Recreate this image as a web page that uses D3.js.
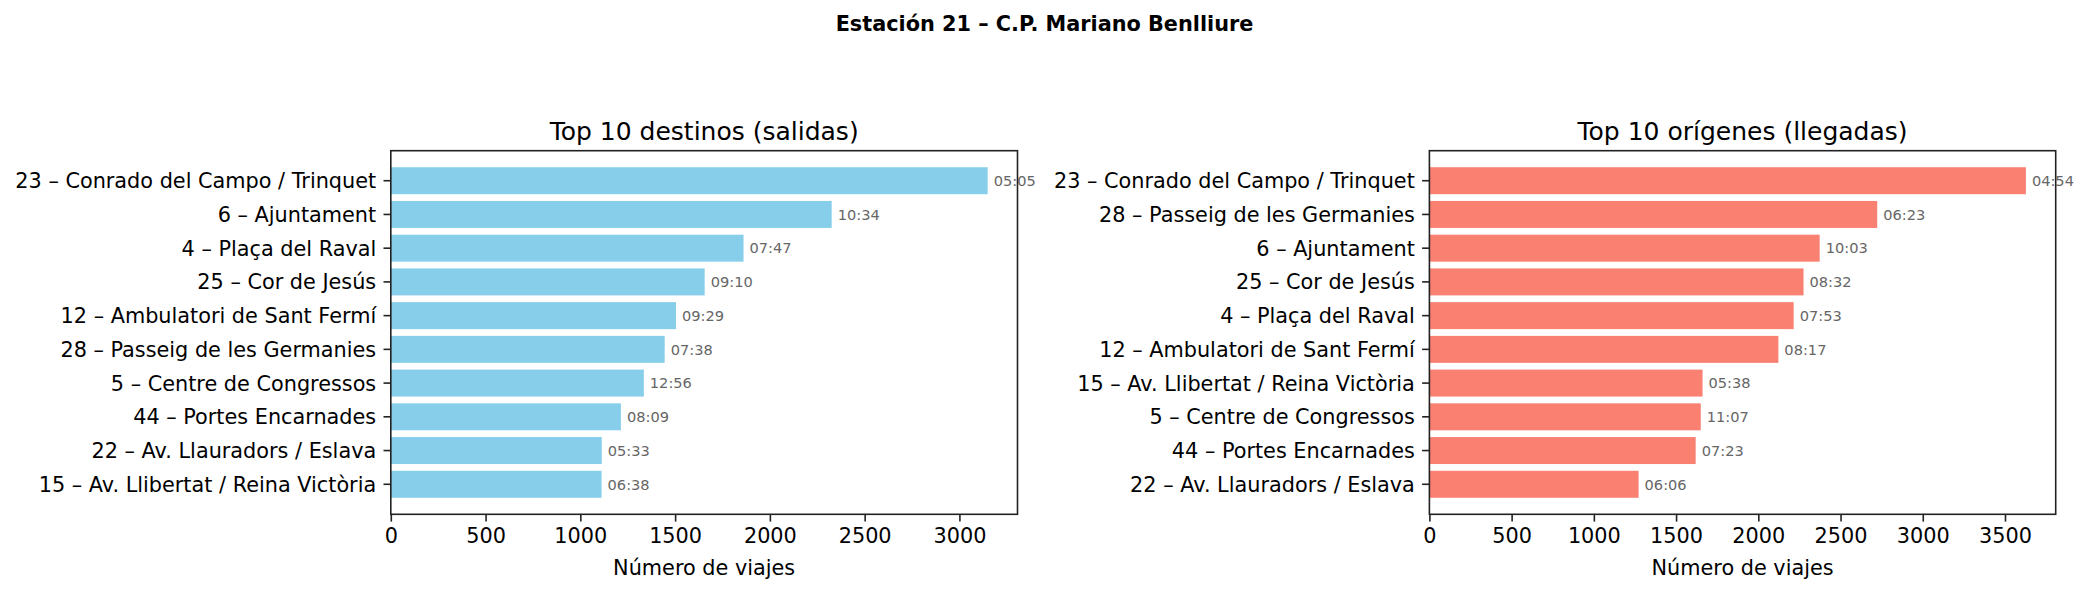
<!DOCTYPE html>
<html><head><meta charset="utf-8">
<script src="https://cdn.jsdelivr.net/npm/d3@7"></script>
<style>
html,body{margin:0;padding:0;background:#fff;}
svg{display:block;font-family:"DejaVu Sans",sans-serif;}
</style></head>
<body>
<svg id="chart" width="2089" height="594"></svg>
<script>
const mainTitle = "Estación 21 – C.P. Mariano Benlliure";
const xLabel = "Número de viajes";

const salidasTitle = "Top 10 destinos (salidas)";
const salidasStations = ["23 – Conrado del Campo / Trinquet","6 – Ajuntament","4 – Plaça del Raval","25 – Cor de Jesús","12 – Ambulatori de Sant Fermí","28 – Passeig de les Germanies","5 – Centre de Congressos","44 – Portes Encarnades","22 – Av. Llauradors / Eslava","15 – Av. Llibertat / Reina Victòria"];
const salidasTrips = [3149, 2326, 1861, 1656, 1505, 1445, 1335, 1214, 1113, 1112];
const salidasTimes = ["05:05","10:34","07:47","09:10","09:29","07:38","12:56","08:09","05:33","06:38"];
const salidasTicks = [0, 500, 1000, 1500, 2000, 2500, 3000];

const llegadasTitle = "Top 10 orígenes (llegadas)";
const llegadasStations = ["23 – Conrado del Campo / Trinquet","28 – Passeig de les Germanies","6 – Ajuntament","25 – Cor de Jesús","4 – Plaça del Raval","12 – Ambulatori de Sant Fermí","15 – Av. Llibertat / Reina Victòria","5 – Centre de Congressos","44 – Portes Encarnades","22 – Av. Llauradors / Eslava"];
const llegadasTrips = [3627, 2723, 2373, 2275, 2215, 2122, 1661, 1650, 1619, 1272];
const llegadasTimes = ["04:54","06:23","10:03","08:32","07:53","08:17","05:38","11:07","07:23","06:06"];
const llegadasTicks = [0, 500, 1000, 1500, 2000, 2500, 3000, 3500];

const svg = d3.select("#chart");
const FS = 20.8;

svg.append("text")
  .attr("x", 1044.5).attr("y", 30.5)
  .attr("text-anchor", "middle")
  .attr("font-weight", "bold")
  .attr("font-size", FS)
  .text(mainTitle);

function panel(x0, x1, title, stations, trips, times, ticks, color) {
  const y0 = 150.7, y1 = 514.3;
  const g = svg.append("g");
  const x = d3.scaleLinear().domain([0, d3.max(trips) * 1.05]).range([x0, x1]);
  const y = d3.scaleBand().domain(stations).range([y0, y1]).paddingInner(0.2).paddingOuter(0.49);

  g.selectAll("rect.bar").data(stations).enter().append("rect")
    .attr("class", "bar")
    .attr("x", x(0))
    .attr("y", d => y(d))
    .attr("width", (d, i) => x(trips[i]) - x(0))
    .attr("height", y.bandwidth())
    .attr("fill", color);

  g.selectAll("text.tm").data(stations).enter().append("text")
    .attr("class", "tm")
    .attr("x", (d, i) => x(trips[i]) + 6)
    .attr("y", d => y(d) + y.bandwidth() / 2)
    .attr("dy", "0.36em")
    .attr("font-size", 14.6)
    .attr("fill", "#666")
    .text((d, i) => times[i]);

  // frame
  g.append("rect")
    .attr("x", x0).attr("y", y0)
    .attr("width", x1 - x0).attr("height", y1 - y0)
    .attr("fill", "none").attr("stroke", "#222").attr("stroke-width", 1.6);

  const xa = g.append("g").attr("transform", `translate(0,${y1})`)
    .call(d3.axisBottom(x).tickValues(ticks).tickFormat(d3.format("d")).tickSize(7.3).tickPadding(7).tickSizeOuter(0));
  xa.select(".domain").remove();
  xa.selectAll(".tick line").attr("stroke", "#222").attr("stroke-width", 1.6);
  xa.selectAll(".tick text").attr("font-size", FS).attr("fill", "#000").attr("font-family", "DejaVu Sans");

  const ya = g.append("g").attr("transform", `translate(${x0},0)`)
    .call(d3.axisLeft(y).tickSize(7.3).tickPadding(7.3).tickSizeOuter(0));
  ya.select(".domain").remove();
  ya.selectAll(".tick line").attr("stroke", "#222").attr("stroke-width", 1.6);
  ya.selectAll(".tick text").attr("font-size", FS).attr("fill", "#000").attr("font-family", "DejaVu Sans").attr("dy", "0.36em");

  g.append("text")
    .attr("x", (x0 + x1) / 2).attr("y", 574.5)
    .attr("text-anchor", "middle").attr("font-size", FS)
    .text(xLabel);

  g.append("text")
    .attr("x", (x0 + x1) / 2).attr("y", 140)
    .attr("text-anchor", "middle").attr("font-size", 25)
    .text(title);
}

panel(390.8, 1017.5, salidasTitle, salidasStations, salidasTrips, salidasTimes, salidasTicks, "#87CEEB");
panel(1429.4, 2055.7, llegadasTitle, llegadasStations, llegadasTrips, llegadasTimes, llegadasTicks, "#FA8072");
</script>
</body></html>
